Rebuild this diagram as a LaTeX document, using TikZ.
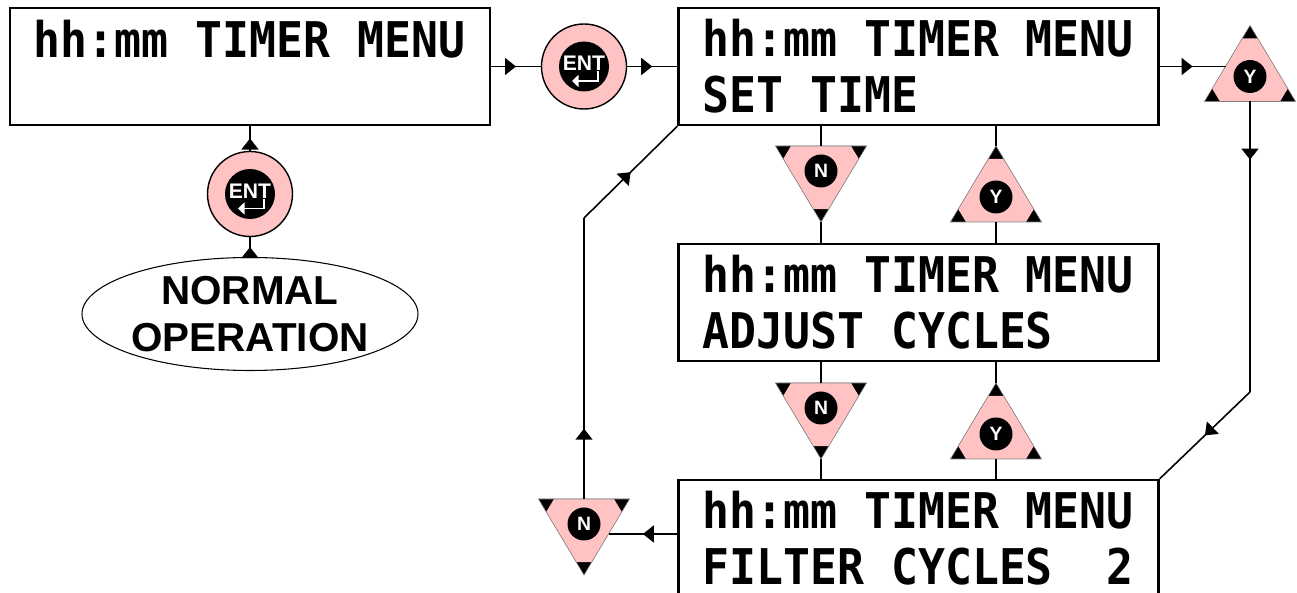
\documentclass[tikz,border=0pt]{standalone}
\usepackage{fontspec}
\setmainfont{Liberation Sans}
\newfontfamily\lcdfont[FakeStretch=0.91]{DejaVu Sans Mono}
\usetikzlibrary{shapes.geometric,decorations.markings,arrows.meta}
\definecolor{keypink}{RGB}{255,195,195}
\newcommand\lcdtype{\lcdfont\bfseries\fontsize{28}{31.7}\selectfont
  \spaceskip=\fontcharwd\font`M\relax}
\newcommand\cell{\hspace*{\fontcharwd\font`M}}
\tikzset{
  menubox/.style={draw,line width=1.4pt,minimum width=9.6cm,minimum height=2.34cm,
    inner xsep=4.8mm,text width=8.64cm,align=left,font=\lcdtype},
  link/.style={line width=0.9pt},
  midarrow/.style={postaction={decorate},decoration={markings,
    mark=at position #1 with {\arrow{Triangle[length=2.2mm,width=3.4mm]}}}},
  midarrow/.default=0.5,
  entkey/.style={circle,draw,line width=0.8pt,fill=keypink,minimum size=1.7cm},
  keycore/.style={circle,fill=black,text=white,inner sep=0pt,
    font=\bfseries\fontsize{11}{11}\selectfont},
  yn/.pic={
    \fill[black] (0,-51) -- (-45.5,25) -- (45.5,25) -- cycle;
    \fill[keypink] (-7.7,-38.1) -- (7.7,-38.1) -- (37.8,12.1) -- (30,25)
      -- (-30,25) -- (-37.8,12.1) -- cycle;
    \draw[gray,line width=0.3pt] (0,-51) -- (-45.5,25) -- (45.5,25) -- cycle;
    \node[keycore,minimum size=6.6mm] {#1};
    \coordinate (-apex) at (0,-51);
    \coordinate (-base) at (0,25);
    \coordinate (-left) at (-24.5,-10);
    \coordinate (-right) at (24.5,-10);
  }
}
\begin{document}
\begin{tikzpicture}[x=0.2mm,y=-0.2mm]
  \useasboundingbox (0,0) rectangle (1297,593);
  % menu screens
  \node[menubox] (timer) at (250,66.5) {hh:mm\cell TIMER\cell MENU\\\phantom{M}};
  \node[menubox] (set) at (918.5,66.5) {hh:mm\cell TIMER\cell MENU\\SET\cell TIME};
  \node[menubox] (adj) at (918.5,302.5) {hh:mm\cell TIMER\cell MENU\\ADJUST\cell CYCLES};
  \node[menubox] (filt) at (918.5,538.5) {hh:mm\cell TIMER\cell MENU\\FILTER\cell CYCLES\cell\cell 2};
  \node[ellipse,draw,line width=0.6pt,minimum width=6.72cm,minimum height=2.26cm,
    inner sep=0pt,align=center,font=\bfseries\fontsize{23}{26.6}\selectfont]
    (normal) at (250,314) {NORMAL\\OPERATION};
  % keys
  \node[entkey] (ent1) at (584,66.5) {};
  \node[entkey] (ent2) at (250,194) {};
  \foreach \k in {ent1,ent2}{
    \node[keycore,minimum size=1cm] at (\k) {};
    \node[text=white,inner sep=0pt,font=\bfseries\fontsize{12}{12}\selectfont]
      at ([yshift=0.6mm]\k.center) {ENT};
    \draw[white,line width=1.1pt,-{Triangle[length=1.3mm,width=2.4mm]}]
      ([xshift=2.8mm,yshift=-1mm]\k.center) -- ([xshift=2.8mm,yshift=-2.9mm]\k.center)
      -- ([xshift=-2.4mm,yshift=-2.9mm]\k.center);
  }
  \pic (yr) at (1250,76.5) {yn=Y};
  \pic[yscale=-1] (n1) at (821,171) {yn=N};
  \pic (y1) at (996,197) {yn=Y};
  \pic[yscale=-1] (n2) at (821,408) {yn=N};
  \pic (y2) at (996,434) {yn=Y};
  \pic[yscale=-1] (nl) at (584,524) {yn=N};
  \coordinate (rbend) at (1250,392);
  \coordinate (lbend) at (584,218);
  % connectors
  \draw[link,midarrow] (normal) -- (ent2);
  \draw[link,midarrow] (ent2) -- (timer);
  \draw[link,midarrow] (timer) -- (ent1);
  \draw[link,midarrow] (ent1) -- (set);
  \draw[link,midarrow] (set.east |- yr-left) -- (yr-left);
  \draw[link,midarrow=0.2] (yr-base) -- (rbend);
  \draw[link,midarrow] (rbend) -- (filt.north east);
  \draw[link] (set.south -| n1-base) -- (n1-base);
  \draw[link] (n1-apex) -- (n1-apex |- adj.north);
  \draw[link] (y1-apex) -- (y1-apex |- set.south);
  \draw[link] (y1-base) -- (y1-base |- adj.north);
  \draw[link] (adj.south -| n2-base) -- (n2-base);
  \draw[link] (n2-apex) -- (n2-apex |- filt.north);
  \draw[link] (y2-apex) -- (y2-apex |- adj.south);
  \draw[link] (y2-base) -- (y2-base |- filt.north);
  \draw[link,midarrow] (filt.west |- nl-right) -- (nl-right);
  \draw[link,midarrow=0.25] (nl-base) -- (lbend);
  \draw[link,midarrow] (lbend) -- (set.south west);
\end{tikzpicture}
\end{document}
